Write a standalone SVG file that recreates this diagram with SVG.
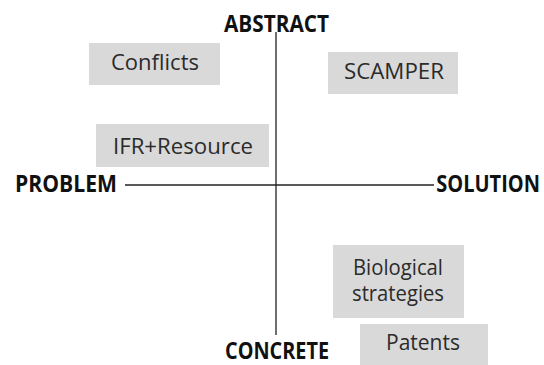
<svg xmlns="http://www.w3.org/2000/svg" width="544" height="365" viewBox="0 0 544 365">
<style>
.box{fill:#d9d9d9}
.lbl{font-family:"Open Sans","Liberation Sans",sans-serif;font-size:21px;fill:#2b2b2b}
.ax{font-family:"Open Sans","Liberation Sans",sans-serif;font-size:23px;font-weight:bold;fill:#111}
.ln{stroke:#222;stroke-width:1.3;fill:none}
</style>
<rect width="544" height="365" fill="#fff"/>
<g id="connectors">
<line class="ln" x1="276" y1="32" x2="276" y2="335"/>
<line class="ln" x1="125" y1="185" x2="434" y2="185"/>
</g>
<g id="abstract"><text class="ax" x="224" y="32" textLength="105" lengthAdjust="spacingAndGlyphs">ABSTRACT</text></g>
<g id="concrete"><text class="ax" x="225" y="359" textLength="104" lengthAdjust="spacingAndGlyphs">CONCRETE</text></g>
<g id="problem"><text class="ax" x="15" y="192" textLength="102" lengthAdjust="spacingAndGlyphs">PROBLEM</text></g>
<g id="solution"><text class="ax" transform="translate(540,192) scale(1,1.15)" x="0" y="0" text-anchor="end" style="font-size:20px">SOLUTION</text></g>
<g id="conflicts"><rect class="box" x="89" y="43" width="131" height="42"/><text class="lbl" x="111" y="70" textLength="88" lengthAdjust="spacingAndGlyphs">Conflicts</text></g>
<g id="scamper"><rect class="box" x="328" y="52" width="130" height="42"/><text class="lbl" x="344" y="79" textLength="100" lengthAdjust="spacingAndGlyphs">SCAMPER</text></g>
<g id="ifr"><rect class="box" x="96" y="124" width="173" height="43"/><text class="lbl" x="113" y="154" textLength="140" lengthAdjust="spacingAndGlyphs">IFR+Resource</text></g>
<g id="bio"><rect class="box" x="333" y="245" width="131" height="73"/><text class="lbl" x="353" y="275" textLength="90" lengthAdjust="spacingAndGlyphs">Biological</text><text class="lbl" x="352" y="301" textLength="92" lengthAdjust="spacingAndGlyphs">strategies</text></g>
<g id="patents"><rect class="box" x="360" y="324" width="128" height="41"/><text class="lbl" x="386" y="350" textLength="74" lengthAdjust="spacingAndGlyphs">Patents</text></g>
</svg>
